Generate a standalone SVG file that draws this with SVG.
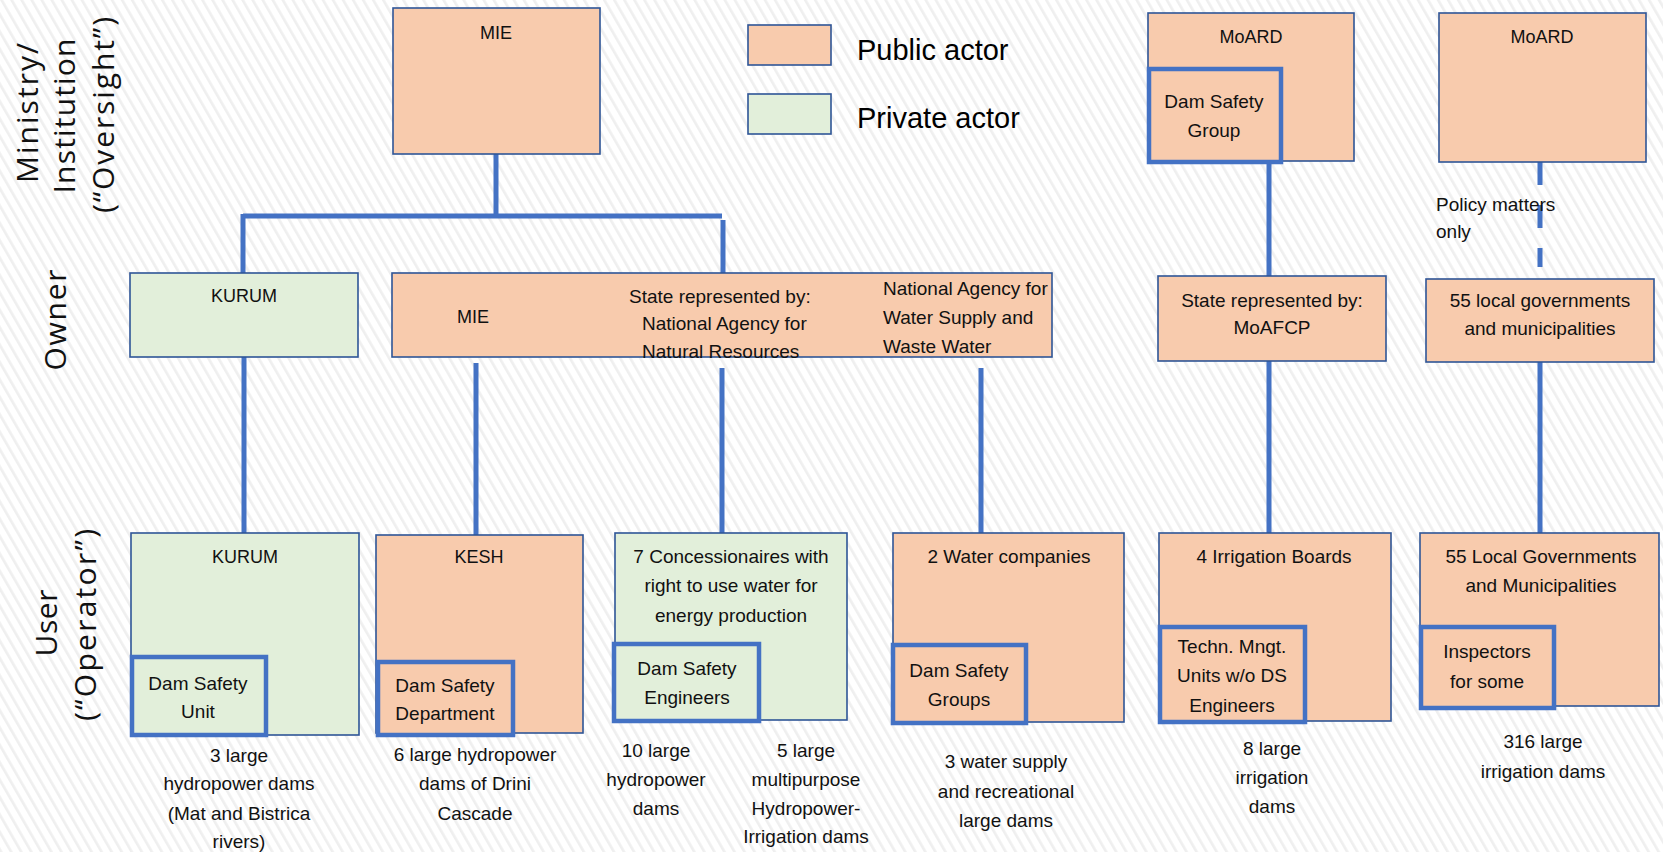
<svg xmlns="http://www.w3.org/2000/svg" width="1663" height="852" viewBox="0 0 1663 852">
<defs>
<pattern id="hatch" patternUnits="userSpaceOnUse" width="8.7" height="20" patternTransform="rotate(-30)">
<rect width="8.7" height="20" fill="#ffffff"/>
<rect x="0" y="0" width="2.6" height="20" fill="#efefef"/>
</pattern>
<style>
.pub{fill:#F8CBAD;stroke:#2F5597;stroke-width:1.6}
.pri{fill:#E2EFDA;stroke:#2F5597;stroke-width:1.6}
.inpub{fill:#F8CBAD;stroke:#4472C4;stroke-width:4.5}
.inpri{fill:#E2EFDA;stroke:#4472C4;stroke-width:4.5}
.t{font-family:"Liberation Sans",Arial,sans-serif;font-size:19px;fill:#111;text-anchor:middle}
.h{font-size:18px}
.s{text-anchor:start}
.side{font-family:"Open Sans","Liberation Sans",sans-serif;font-size:30px;fill:#111;text-anchor:middle}
.leg{font-family:"Liberation Sans",Arial,sans-serif;font-size:29px;fill:#000}
.c{stroke:#4472C4;stroke-width:5;fill:none}
</style>
</defs>
<rect width="1663" height="852" fill="url(#hatch)"/>

<g id="side-labels">
<text class="side" transform="translate(37.5,113) rotate(-90)" textLength="140" lengthAdjust="spacing">Ministry/</text>
<text class="side" transform="translate(75,116) rotate(-90)" textLength="155" lengthAdjust="spacing">Institution</text>
<text class="side" transform="translate(114,115) rotate(-90)" textLength="196" lengthAdjust="spacing">(“Oversight”)</text>
<text class="side" transform="translate(66,320) rotate(-90)" textLength="101" lengthAdjust="spacing">Owner</text>
<text class="side" transform="translate(57,623) rotate(-90)" textLength="67" lengthAdjust="spacing">User</text>
<text class="side" transform="translate(96,625) rotate(-90)" textLength="192" lengthAdjust="spacing">(“Operator”)</text>
</g>

<g id="legend">
<rect class="pub" x="748" y="25" width="83" height="40"/>
<text class="leg" x="857" y="60">Public actor</text>
<rect class="pri" x="748" y="94" width="83" height="40"/>
<text class="leg" x="857" y="128">Private actor</text>
</g>

<g id="connectors">
<line class="c" x1="496" y1="154" x2="496" y2="216"/>
<line class="c" x1="243" y1="216" x2="722" y2="216"/>
<line class="c" x1="243" y1="214" x2="243" y2="273"/>
<line class="c" x1="723" y1="220" x2="723" y2="280"/>
<line class="c" x1="244" y1="357" x2="244" y2="533"/>
<line class="c" x1="476" y1="363" x2="476" y2="535"/>
<line class="c" x1="722" y1="368" x2="722" y2="533"/>
<line class="c" x1="981" y1="368" x2="981" y2="533"/>
<line class="c" x1="1269" y1="163" x2="1269" y2="276"/>
<line class="c" x1="1269" y1="361" x2="1269" y2="533"/>
<line class="c" x1="1540" y1="162" x2="1540" y2="267" stroke-dasharray="23 20"/>
<line class="c" x1="1540" y1="362" x2="1540" y2="533"/>
</g>

<g id="mie-top">
<rect class="pub" x="393" y="8" width="207" height="146"/>
<text class="t h" x="496" y="39">MIE</text>
</g>

<g id="kurum-owner">
<rect class="pri" x="130" y="273" width="228" height="84"/>
<text class="t h" x="244" y="302">KURUM</text>
</g>

<g id="mie-owner">
<rect class="pub" x="392" y="273" width="660" height="84"/>
<text class="t h" x="473" y="323">MIE</text>
<text class="t s" x="629" y="303">State represented by:</text>
<text class="t s" x="642" y="330">National Agency for</text>
<text class="t s" x="642" y="358">Natural Resources</text>
<text class="t s" x="883" y="295">National Agency for</text>
<text class="t s" x="883" y="324">Water Supply and</text>
<text class="t s" x="883" y="353">Waste Water</text>
</g>

<g id="moard-1">
<rect class="pub" x="1148" y="13" width="206" height="148"/>
<text class="t h" x="1251" y="43">MoARD</text>
</g>
<g id="dam-safety-group">
<rect class="inpub" x="1149" y="69" width="132" height="93"/>
<text class="t" x="1214" y="108">Dam Safety</text>
<text class="t" x="1214" y="137">Group</text>
</g>

<g id="moafcp-owner">
<rect class="pub" x="1158" y="276" width="228" height="85"/>
<text class="t" x="1272" y="307">State represented by:</text>
<text class="t" x="1272" y="334">MoAFCP</text>
</g>

<g id="moard-2">
<rect class="pub" x="1439" y="13" width="207" height="149"/>
<text class="t h" x="1542" y="43">MoARD</text>
</g>

<g id="policy-label">
<text class="t s" x="1436" y="211">Policy matters</text>
<text class="t s" x="1436" y="238">only</text>
</g>

<g id="local-gov-owner">
<rect class="pub" x="1426" y="279" width="228" height="83"/>
<text class="t" x="1540" y="307">55 local governments</text>
<text class="t" x="1540" y="335">and municipalities</text>
</g>

<g id="kurum-user">
<rect class="pri" x="131" y="533" width="228" height="202"/>
<text class="t h" x="245" y="563">KURUM</text>
</g>
<g id="dam-safety-unit">
<rect class="inpri" x="132" y="657" width="134" height="78"/>
<text class="t" x="198" y="690">Dam Safety</text>
<text class="t" x="198" y="718">Unit</text>
</g>

<g id="kesh-user">
<rect class="pub" x="376" y="535" width="207" height="198"/>
<text class="t h" x="479" y="563">KESH</text>
</g>
<g id="dam-safety-department">
<rect class="inpub" x="378" y="662" width="135" height="73"/>
<text class="t" x="445" y="692">Dam Safety</text>
<text class="t" x="445" y="720">Department</text>
</g>

<g id="concessionaires-user">
<rect class="pri" x="615" y="533" width="232" height="187"/>
<text class="t" x="731" y="563">7 Concessionaires with</text>
<text class="t" x="731" y="592">right to use water for</text>
<text class="t" x="731" y="622">energy production</text>
</g>
<g id="dam-safety-engineers">
<rect class="inpri" x="614" y="644" width="145" height="77"/>
<text class="t" x="687" y="675">Dam Safety</text>
<text class="t" x="687" y="704">Engineers</text>
</g>

<g id="water-companies-user">
<rect class="pub" x="893" y="533" width="231" height="189"/>
<text class="t" x="1009" y="563">2 Water companies</text>
</g>
<g id="dam-safety-groups">
<rect class="inpub" x="893" y="645" width="133" height="78"/>
<text class="t" x="959" y="677">Dam Safety</text>
<text class="t" x="959" y="706">Groups</text>
</g>

<g id="irrigation-boards-user">
<rect class="pub" x="1159" y="533" width="232" height="188"/>
<text class="t" x="1274" y="563">4 Irrigation Boards</text>
</g>
<g id="techn-units">
<rect class="inpub" x="1160" y="627" width="145" height="95"/>
<text class="t" x="1232" y="653">Techn. Mngt.</text>
<text class="t" x="1232" y="682">Units w/o DS</text>
<text class="t" x="1232" y="712">Engineers</text>
</g>

<g id="local-gov-user">
<rect class="pub" x="1420" y="533" width="239" height="173"/>
<text class="t" x="1541" y="563">55 Local Governments</text>
<text class="t" x="1541" y="592">and Municipalities</text>
</g>
<g id="inspectors">
<rect class="inpub" x="1421" y="627" width="133" height="81"/>
<text class="t" x="1487" y="658">Inspectors</text>
<text class="t" x="1487" y="688">for some</text>
</g>

<g id="dam-counts">
<text class="t" x="239" y="762">3 large</text>
<text class="t" x="239" y="790">hydropower dams</text>
<text class="t" x="239" y="820">(Mat and Bistrica</text>
<text class="t" x="239" y="848">rivers)</text>
<text class="t" x="475" y="761">6 large hydropower</text>
<text class="t" x="475" y="790">dams of Drini</text>
<text class="t" x="475" y="820">Cascade</text>
<text class="t" x="656" y="757">10 large</text>
<text class="t" x="656" y="786">hydropower</text>
<text class="t" x="656" y="815">dams</text>
<text class="t" x="806" y="757">5 large</text>
<text class="t" x="806" y="786">multipurpose</text>
<text class="t" x="806" y="815">Hydropower-</text>
<text class="t" x="806" y="843">Irrigation dams</text>
<text class="t" x="1006" y="768">3 water supply</text>
<text class="t" x="1006" y="798">and recreational</text>
<text class="t" x="1006" y="827">large dams</text>
<text class="t" x="1272" y="755">8 large</text>
<text class="t" x="1272" y="784">irrigation</text>
<text class="t" x="1272" y="813">dams</text>
<text class="t" x="1543" y="748">316 large</text>
<text class="t" x="1543" y="778">irrigation dams</text>
</g>
</svg>
